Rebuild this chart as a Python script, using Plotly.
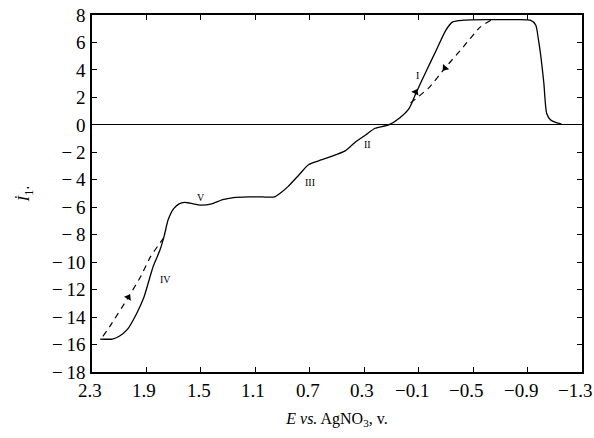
import plotly.graph_objects as go

# Forward sweep (solid)
E_solid = [2.24, 2.15, 2.10, 2.04, 1.97, 1.92, 1.85, 1.80, 1.77, 1.74, 1.70, 1.66, 1.62,
           1.58, 1.50, 1.42, 1.34, 1.26, 1.15, 1.05, 0.96, 0.92, 0.86, 0.78, 0.71, 0.63,
           0.54, 0.44, 0.37, 0.29, 0.22, 0.12, 0.04, -0.03, -0.08, -0.15, -0.23, -0.30,
           -0.35, -0.43, -0.60, -0.80, -0.92, -0.96, -0.98, -1.00, -1.02, -1.04, -1.07,
           -1.10, -1.15]
I_solid = [-15.6, -15.6, -15.4, -14.9, -13.7, -12.6, -10.3, -9.1, -8.1, -6.9, -6.1, -5.75,
           -5.65, -5.7, -5.85, -5.75, -5.45, -5.3, -5.25, -5.25, -5.25, -5.0, -4.5, -3.65,
           -2.9, -2.6, -2.3, -1.9, -1.3, -0.74, -0.25, 0.0, 0.5, 1.2, 2.3, 3.8, 5.45, 6.9,
           7.5, 7.62, 7.66, 7.66, 7.62, 7.27, 6.2, 4.8, 3.0, 0.85, 0.35, 0.2, 0.05]

# Reverse sweeps (dashed)
E_dash_top = [-0.04, -0.08, -0.18, -0.29, -0.43, -0.55, -0.63]
I_dash_top = [1.6, 1.9, 2.75, 4.1, 5.7, 7.1, 7.62]
E_dash_bot = [2.22, 2.17, 2.03, 1.945, 1.87, 1.815, 1.77]
I_dash_bot = [-15.4, -14.7, -12.5, -11.1, -9.6, -8.8, -8.2]

# Wave labels
wave_labels = ["I", "II", "III", "IV", "V"]
wave_E = [-0.093, 0.278, 0.70, 1.76, 1.50]
wave_I = [3.63, -1.4, -4.17, -11.23, -5.26]

# Arrow heads (position and pointing angle, degrees clockwise from up)
arrow_E = [-0.078, -0.293, 2.033]
arrow_I = [2.39, 4.14, -12.56]
arrow_angle = [27, 220, 30]

x_ticks = [2.3, 1.9, 1.5, 1.1, 0.7, 0.3, -0.1, -0.5, -0.9, -1.3]
y_ticks = [8, 6, 4, 2, 0, -2, -4, -6, -8, -10, -12, -14, -16, -18]

def fmt(v, gap=""):
    s = f"{abs(v):g}"
    if abs(v) < 1 and v != 0:
        s = f"{abs(v):.1f}"
    if v < 0:
        s = "\u2212" + gap + s
    return s

serif = "Liberation Serif"
TICK_SIZE = 19

fig = go.Figure()
fig.add_trace(go.Scatter(x=E_solid, y=I_solid, mode="lines",
                         line=dict(color="black", width=1.3, shape="spline", smoothing=0.6),
                         showlegend=False, hoverinfo="skip"))
fig.add_trace(go.Scatter(x=E_dash_top, y=I_dash_top, mode="lines",
                         line=dict(color="black", width=1.2, dash="6px,5px", shape="spline", smoothing=0.5),
                         showlegend=False, hoverinfo="skip"))
fig.add_trace(go.Scatter(x=E_dash_bot, y=I_dash_bot, mode="lines",
                         line=dict(color="black", width=1.2, dash="6px,5px", shape="spline", smoothing=0.5),
                         showlegend=False, hoverinfo="skip"))
fig.add_trace(go.Scatter(x=arrow_E, y=arrow_I, mode="markers",
                         marker=dict(symbol="triangle-up", size=7, color="black",
                                     angle=arrow_angle, line=dict(width=0)),
                         showlegend=False, hoverinfo="skip"))

for t, x, y in zip(wave_labels, wave_E, wave_I):
    fig.add_annotation(x=x, y=y, text=t, showarrow=False,
                       font=dict(family=serif, size=10, color="black"))

# x tick labels: digits centred on the tick, minus sign hanging to the left
for v in x_ticks:
    fig.add_annotation(x=v, xref="x", y=0, yref="paper", text=fmt(v), showarrow=False,
                       xanchor="right", yanchor="middle", xshift=12, yshift=-18,
                       font=dict(family=serif, size=TICK_SIZE, color="black"))

fig.update_xaxes(range=[2.3, -1.3], tickvals=x_ticks, showticklabels=False,
                 showline=True, mirror="ticks", linecolor="black", linewidth=1.5,
                 ticks="inside", ticklen=5, tickcolor="black", tickwidth=1,
                 showgrid=False, zeroline=False,
                 title=dict(text="<i>E vs.</i> AgNO<sub>3</sub>, v.", standoff=40,
                            font=dict(family=serif, size=16, color="black")))
fig.update_yaxes(range=[-18, 8], tickvals=y_ticks, ticktext=[fmt(v, "\u2009") for v in y_ticks],
                 showline=True, mirror="ticks", linecolor="black", linewidth=1.5,
                 ticks="inside", ticklen=5, tickcolor="black", tickwidth=1,
                 showgrid=False, zeroline=True, zerolinecolor="black", zerolinewidth=1.2,
                 ticklabelstandoff=1, ticklabeloverflow="allow",
                 tickfont=dict(family=serif, size=TICK_SIZE, color="black"),
                 title=dict(text="<i>İ</i><sub>1</sub>.", standoff=18,
                            font=dict(family=serif, size=17, color="black")))

fig.update_layout(width=594, height=438,
                  margin=dict(l=92, r=12, t=15, b=66, autoexpand=False),
                  paper_bgcolor="white", plot_bgcolor="white")

# remove the default page margin so the figure fills the window exactly
fig.write_html("out.html", config={"displayModeBar": False},
               post_script="document.body.style.margin='0';")
